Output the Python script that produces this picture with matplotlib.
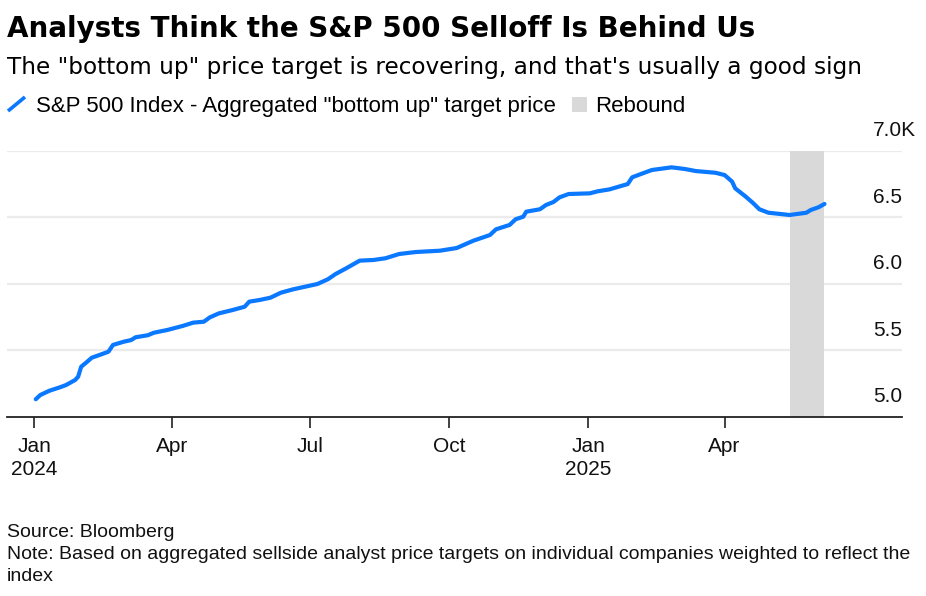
import matplotlib
matplotlib.use("Agg")
import matplotlib.pyplot as plt
import matplotlib.dates as mdates
from matplotlib.transforms import offset_copy, blended_transform_factory
from matplotlib.lines import Line2D
from matplotlib.patches import Rectangle
import pandas as pd

plt.rcParams['font.family'] = ['Liberation Sans', 'DejaVu Sans']

# ---- data ----
dates = ["2024-01-02", "2024-01-05", "2024-01-11", "2024-01-18", "2024-01-22", "2024-01-28",
         "2024-01-30", "2024-02-01", "2024-02-05", "2024-02-08", "2024-02-13", "2024-02-19",
         "2024-02-22", "2024-02-29", "2024-03-05", "2024-03-08", "2024-03-16", "2024-03-20",
         "2024-03-29", "2024-04-08", "2024-04-15", "2024-04-22", "2024-04-26", "2024-05-02",
         "2024-05-11", "2024-05-19", "2024-05-22", "2024-05-29", "2024-06-05", "2024-06-12",
         "2024-06-20", "2024-06-26", "2024-07-06", "2024-07-13", "2024-07-18", "2024-07-25",
         "2024-08-03", "2024-08-12", "2024-08-20", "2024-08-29", "2024-09-09", "2024-09-25",
         "2024-10-06", "2024-10-17", "2024-10-28", "2024-11-01", "2024-11-10", "2024-11-14",
         "2024-11-19", "2024-11-21", "2024-11-30", "2024-12-04", "2024-12-09", "2024-12-13",
         "2024-12-19", "2025-01-02", "2025-01-07", "2025-01-15", "2025-01-27", "2025-01-30",
         "2025-02-06", "2025-02-12", "2025-02-25", "2025-03-06", "2025-03-13", "2025-03-26",
         "2025-04-01", "2025-04-06", "2025-04-08", "2025-04-15", "2025-04-20", "2025-04-24",
         "2025-04-30", "2025-05-14", "2025-05-25", "2025-05-28", "2025-06-02", "2025-06-06"]
values = [5130, 5162, 5194, 5220, 5237, 5275,
          5300, 5375, 5413, 5443, 5463, 5488,
          5539, 5563, 5576, 5597, 5612, 5631,
          5652, 5682, 5707, 5714, 5747, 5777,
          5802, 5827, 5865, 5878, 5895, 5933,
          5958, 5973, 5998, 6034, 6073, 6116,
          6174, 6179, 6192, 6224, 6239, 6249,
          6269, 6324, 6367, 6410, 6443, 6486,
          6505, 6543, 6561, 6593, 6616, 6651,
          6676, 6681, 6696, 6711, 6751, 6802,
          6832, 6857, 6877, 6864, 6849, 6836,
          6819, 6769, 6719, 6656, 6606, 6561,
          6535, 6518, 6535, 6556, 6576, 6601]
rebound_start = "2025-05-14"
rebound_end = "2025-06-06"
y_ticks = [5000, 5500, 6000, 6500, 7000]
x_ticks = ["2024-01-01", "2024-04-01", "2024-07-01", "2024-10-01", "2025-01-01", "2025-04-01"]
x_tick_labels = ["Jan\n2024", "Apr", "Jul", "Oct", "Jan\n2025", "Apr"]

title = "Analysts Think the S&P 500 Selloff Is Behind Us"
subtitle = "The \"bottom up\" price target is recovering, and that's usually a good sign"
series_name = "S&P 500 Index - Aggregated \"bottom up\" target price"
shade_name = "Rebound"
footnote = ["Source: Bloomberg",
            "Note: Based on aggregated sellside analyst price targets on individual companies weighted to reflect the",
            "index"]

BLUE = "#0a78ff"
GRAY = "#d9d9d9"
W, H = 926, 596

fig = plt.figure(figsize=(W / 100, H / 100), dpi=100)
left, right, top, bottom = 7, 901.7, 151, 416.5
ax = fig.add_axes([left / W, 1 - bottom / H, (right - left) / W, (bottom - top) / H])

d = pd.to_datetime(dates)
ax.axvspan(pd.Timestamp(rebound_start), pd.Timestamp(rebound_end), color=GRAY, lw=0, zorder=1)
ax.plot(d, values, color=BLUE, lw=3.0, solid_capstyle='round', solid_joinstyle='round', zorder=3)

ax.set_xlim(pd.Timestamp("2023-12-14"), pd.Timestamp("2025-07-27"))
ax.set_ylim(5000, 7000)

for s in ["top", "right", "left"]:
    ax.spines[s].set_visible(False)
ax.spines["bottom"].set_color("#222222")
ax.spines["bottom"].set_linewidth(1.3)
ax.spines["bottom"].set_zorder(4)

for v in y_ticks[1:]:
    ax.axhline(v, color="#ebebeb", lw=1.6, zorder=0)
ax.set_yticks([])

ax.set_xticks(pd.to_datetime(x_ticks))
ax.set_xticklabels(x_tick_labels, fontsize=15, color="#111111", linespacing=1.25)
ax.tick_params(axis='x', length=8, width=1.3, color="#333333", pad=7)

trans = blended_transform_factory(ax.transAxes, ax.transData)
trans = offset_copy(trans, fig=fig, x=0, y=20, units='dots')
xlab = (873 - left) / (right - left)
for v in y_ticks:
    lab = f"{v/1000:.1f}" + ("K" if v == y_ticks[-1] else "")
    ax.text(xlab, v, lab, transform=trans, ha='left', va='center', fontsize=15, color="#111111",
            clip_on=False)

# titles
fig.text(7 / W, 1 - 37.3 / H, title, fontsize=20.0, fontweight='bold', va='baseline', ha='left',
         color="#000000", family=['DejaVu Sans'])
fig.text(7 / W, 1 - 74 / H, subtitle, fontsize=16.65, va='baseline', ha='left', color="#000000",
         family=['DejaVu Sans'])

# legend
fig.add_artist(Line2D([8 / W, 25 / W], [1 - 111 / H, 1 - 97 / H], transform=fig.transFigure,
                      color=BLUE, lw=2.6, solid_capstyle='butt'))
fig.text(36 / W, 1 - 111.5 / H, series_name, fontsize=16, va='baseline', ha='left', color="#000000")
fig.add_artist(Rectangle((571.7 / W, 1 - 111.7 / H), 15.6 / W, 15 / H, transform=fig.transFigure,
                         color=GRAY, lw=0))
fig.text(595 / W, 1 - 111.5 / H, shade_name, fontsize=16, va='baseline', ha='left', color="#000000")

# footnote
for i, line in enumerate(footnote):
    fig.text(7 / W, 1 - (536.7 + 22 * i) / H, line, fontsize=14, va='baseline', ha='left',
             color="#111111")

fig.savefig("out.png", dpi=100)
